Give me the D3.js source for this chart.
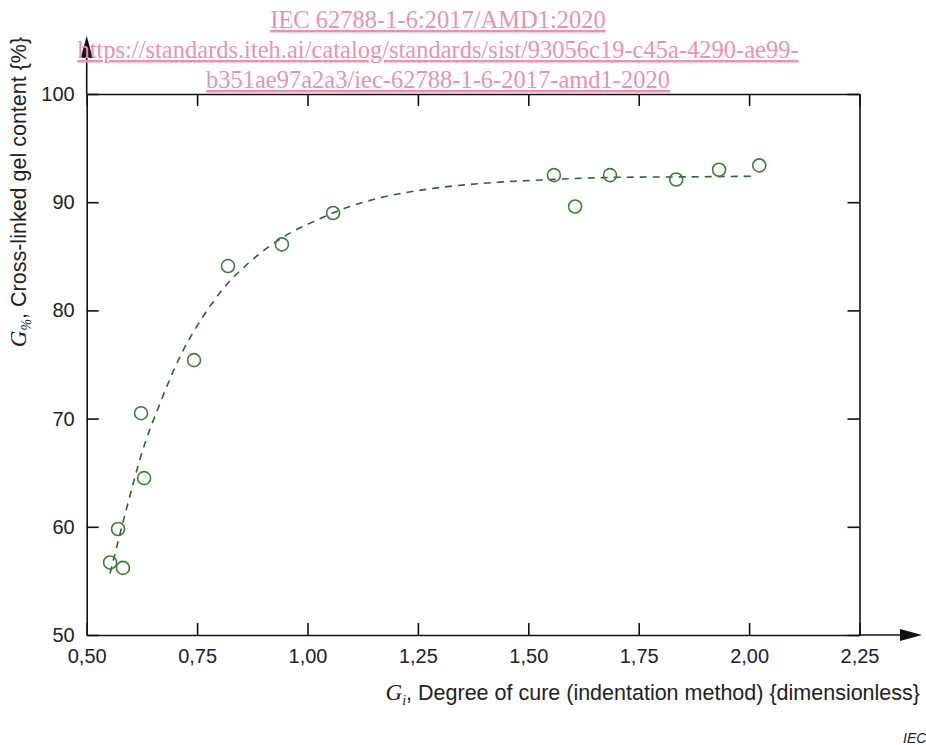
<!DOCTYPE html>
<html>
<head>
<meta charset="utf-8">
<script src="https://cdn.jsdelivr.net/npm/d3@7"></script>
<style>
    body { margin: 0; background: #fff; }
    svg { display: block; }
    .tick text { font-family: "Liberation Sans", Arial, sans-serif; font-size: 20px; fill: #222; }
    .wm { font-family: "Liberation Serif", "Times New Roman", serif; font-size: 24.5px; fill: #ee8fb0; text-decoration: underline; }
    .lbl { font-family: "Liberation Sans", Arial, sans-serif; font-size: 21.5px; fill: #222; }
    .sym { font-family: "Liberation Serif", "Times New Roman", serif; font-style: italic; }
</style>
</head>
<body>
<div id="chart"></div>
<script>
//
// data
//
const pointX = [0.553, 0.571, 0.582, 0.623, 0.630, 0.743, 0.820, 0.942, 1.058, 1.558, 1.606, 1.685, 1.835, 1.932, 2.023];
const pointY = [56.7, 59.8, 56.2, 70.5, 64.5, 75.4, 84.1, 86.1, 89.0, 92.5, 89.6, 92.5, 92.1, 93.0, 93.4];

// fitted (dashed) curve
const fitX = [0.553, 0.591, 0.627, 0.666, 0.711, 0.763, 0.809, 0.870, 0.954, 1.013, 1.089, 1.164, 1.271, 1.384, 1.527, 1.708, 1.889, 2.007];
const fitY = [55.7, 61.8, 67.1, 71.4, 75.7, 79.4, 82.0, 84.5, 87.0, 88.2, 89.5, 90.4, 91.2, 91.7, 92.05, 92.3, 92.35, 92.4];

const xTicks = [0.50, 0.75, 1.00, 1.25, 1.50, 1.75, 2.00, 2.25];
const yTicks = [50, 60, 70, 80, 90, 100];

const watermark = [
    'IEC 62788-1-6:2017/AMD1:2020',
    'https://standards.iteh.ai/catalog/standards/sist/93056c19-c45a-4290-ae99-',
    'b351ae97a2a3/iec-62788-1-6-2017-amd1-2020'
];

const width = 926, height = 745;
const margin = {left: 86.7, right: 859.5, top: 94, bottom: 635};

const svg = d3.select('#chart').append('svg')
    .attr('width', width)
    .attr('height', height);

const x = d3.scaleLinear().domain([0.5, 2.25]).range([margin.left, margin.right]);
const y = d3.scaleLinear().domain([50, 100]).range([margin.bottom, margin.top]);

const comma = d => d3.format('.2f')(d).replace('.', ',');

// axes, ticks pointing inward
const xAxis = svg.append('g')
    .attr('transform', `translate(0, ${margin.bottom})`)
    .call(d3.axisBottom(x).tickValues(xTicks).tickFormat(comma)
        .tickSizeInner(-12).tickSizeOuter(0).tickPadding(14));

const yAxis = svg.append('g')
    .attr('transform', `translate(${margin.left}, 0)`)
    .call(d3.axisLeft(y).tickValues(yTicks)
        .tickSizeInner(-12).tickSizeOuter(0).tickPadding(12));

// frame top and right
const topAxis = svg.append('g')
    .attr('transform', `translate(0, ${margin.top})`)
    .call(d3.axisTop(x).tickValues(xTicks).tickFormat('')
        .tickSizeInner(-12).tickSizeOuter(0));

const rightAxis = svg.append('g')
    .attr('transform', `translate(${margin.right}, 0)`)
    .call(d3.axisRight(y).tickValues(yTicks).tickFormat('')
        .tickSizeInner(-12).tickSizeOuter(0));

[xAxis, yAxis, topAxis, rightAxis].forEach(g => {
    g.selectAll('.domain').attr('stroke', '#111').attr('stroke-width', 1.6);
    g.selectAll('.tick line').attr('stroke', '#111').attr('stroke-width', 1.6);
});
xAxis.selectAll('.tick text').attr('dy', '0.72em');

// arrows past the frame
svg.append('line')
    .attr('x1', margin.right).attr('x2', 905)
    .attr('y1', margin.bottom).attr('y2', margin.bottom)
    .attr('stroke', '#111').attr('stroke-width', 1.6);
svg.append('path')
    .attr('d', `M922,${margin.bottom} L900,${margin.bottom - 6} L900,${margin.bottom + 6} Z`)
    .attr('fill', '#111');
svg.append('line')
    .attr('x1', margin.left).attr('x2', margin.left)
    .attr('y1', margin.top).attr('y2', 52)
    .attr('stroke', '#111').attr('stroke-width', 1.6);
svg.append('path')
    .attr('d', `M${margin.left},36 L${margin.left - 6},58 L${margin.left + 6},58 Z`)
    .attr('fill', '#111');

// fitted curve
const fit = fitX.map((d, i) => [d, fitY[i]]);
svg.append('path')
    .datum(fit)
    .attr('d', d3.line().x(d => x(d[0])).y(d => y(d[1])).curve(d3.curveMonotoneX))
    .attr('fill', 'none')
    .attr('stroke', '#2f6136')
    .attr('stroke-width', 1.6)
    .attr('stroke-dasharray', '7,6');

// measured points
svg.selectAll('circle.pt')
    .data(pointX.map((d, i) => [d, pointY[i]]))
    .join('circle')
    .classed('pt', true)
    .attr('cx', d => x(d[0]))
    .attr('cy', d => y(d[1]))
    .attr('r', 6.5)
    .attr('fill', 'none')
    .attr('stroke', '#3b7d3b')
    .attr('stroke-width', 1.6);

// axis labels
const xl = svg.append('text')
    .attr('class', 'lbl')
    .attr('text-anchor', 'end')
    .attr('x', 920)
    .attr('y', 700);
xl.append('tspan').attr('class', 'sym').attr('font-size', 23).text('G');
xl.append('tspan').attr('class', 'sym').attr('font-size', 14).attr('dy', 5).text('i');
xl.append('tspan').attr('dy', -5).text(', Degree of cure (indentation method) {dimensionless}');

const yl = svg.append('text')
    .attr('class', 'lbl')
    .attr('text-anchor', 'middle')
    .attr('transform', 'translate(26, 192) rotate(-90)');
yl.append('tspan').attr('class', 'sym').attr('font-size', 23).text('G');
yl.append('tspan').attr('class', 'sym').attr('font-size', 14).attr('dy', 5).text('%');
yl.append('tspan').attr('dy', -5).text(', Cross-linked gel content {%}');

// watermark
svg.selectAll('text.wm')
    .data(watermark)
    .join('text')
    .attr('class', 'wm')
    .attr('text-anchor', 'middle')
    .attr('x', 438)
    .attr('y', (d, i) => 28 + i * 30)
    .text(d => d);

// figure tag
svg.append('text')
    .attr('x', 903)
    .attr('y', 743)
    .attr('font-family', '"Liberation Sans", Arial, sans-serif')
    .attr('font-style', 'italic')
    .attr('font-size', 14)
    .attr('fill', '#222')
    .text('IEC');
</script>
</body>
</html>
